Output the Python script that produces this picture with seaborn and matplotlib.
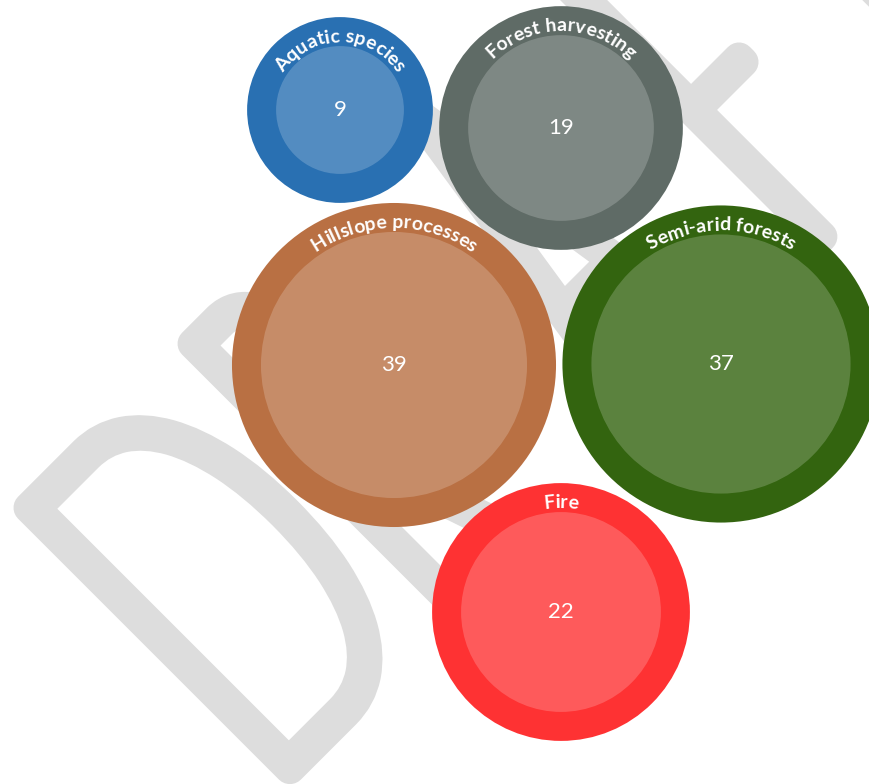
import numpy as np
import matplotlib.pyplot as plt
import seaborn as sns
from matplotlib.patches import Circle, PathPatch
from matplotlib.font_manager import FontProperties
from matplotlib.textpath import TextPath
from matplotlib.path import Path
from matplotlib.transforms import Affine2D

topics = ["Aquatic species", "Forest harvesting", "Hillslope processes", "Semi-arid forests", "Fire"]
counts = [9, 19, 39, 37, 22]
hex_cols = ["#2970b2", "#5f6b66", "#b97043", "#33640f", "#fe3233"]

# packed layout centres, in pixel space
pos_x = [340, 561, 394, 721, 561]
pos_y = [110, 128, 365, 364, 612]

W, H, DPI = 869, 784, 100
K = 21.3     # px per sqrt(count) for the inner disc
RING = 29    # width of the darker outer ring

sns.set_theme(style="white")
plt.rcParams['font.family'] = ['Lato', 'DejaVu Sans']
pal = sns.color_palette(hex_cols)

fig = plt.figure(figsize=(W / DPI, H / DPI), dpi=DPI)
ax = fig.add_axes([0, 0, 1, 1])
ax.set_xlim(0, W)
ax.set_ylim(H, 0)
ax.set_aspect('equal')
ax.axis('off')

# --- DRAFT watermark: thin glyphs, condensed, stroked with round joins, rotated 45 deg
wm_prop = FontProperties(family='Lato', weight='light')
wm_letters = "DRAFT"
wm_left = [0, 232, 495, 750, 912]       # left edge of each letter along the text direction
wm_stretch = [1.6, 1.1, 1.0, 1.0, 1.0]  # per-letter width factor
WM_LW = 31          # stroke width in px
cap_px = 400 - WM_LW
half = WM_LW / 2
c = np.sqrt(0.5)
rot = Affine2D(np.array([[c, -c, 0], [-c, -c, 0], [0, 0, 1]]))
u0, v0 = -354, -764


def glyph(ch):
    p = TextPath((0, 0), ch, size=1, prop=wm_prop)
    pts = p.vertices[p.codes != Path.CLOSEPOLY]
    return p, pts[:, 0].min(), pts[:, 0].max(), pts[:, 1].max()


_, dx0, dx1, dtop = glyph("D")
sy = cap_px / dtop
sx = (143 - WM_LW) / (dx1 - dx0)
for ch, off, st in zip(wm_letters, wm_left, wm_stretch):
    p, xmin, _, _ = glyph(ch)
    tr = (Affine2D().translate(-xmin, 0).scale(sx * st, sy)
          .translate(u0 + off + half, v0 + half) + rot)
    ax.add_patch(PathPatch(tr.transform_path(p), facecolor='#dddddd', edgecolor='#dddddd',
                           lw=WM_LW * 72 / DPI, joinstyle='round', capstyle='round', zorder=0))

renderer = fig.canvas.get_renderer()
lab_prop = FontProperties(family=['Lato', 'DejaVu Sans'], weight='bold', size=14)

def w_px(s):
    return renderer.get_text_width_height_descent(s, lab_prop, ismath=False)[0]

def arc_text(s, cx, cy, rb):
    base = w_px("ll")
    adv = [w_px("l" + ch + "l") - base for ch in s]
    pos = -sum(adv) / 2
    for ch, a in zip(s, adv):
        th = (pos + a / 2) / rb
        ax.text(cx + rb * np.sin(th), cy - rb * np.cos(th), ch, fontproperties=lab_prop,
                color='white', ha='center', va='baseline', rotation=-np.degrees(th),
                rotation_mode='anchor', zorder=5)
        pos += a

for name, v, col, cx, cy in zip(topics, counts, pal, pos_x, pos_y):
    r_in = K * np.sqrt(v)
    r_out = r_in + RING
    ax.add_patch(Circle((cx, cy), r_out, color=col, lw=0, zorder=2))
    ax.add_patch(Circle((cx, cy), r_in, color='white', alpha=0.2, lw=0, zorder=3))
    ax.text(cx, cy, str(v), ha='center', va='center', color='white', fontsize=16,
            fontweight='normal', zorder=5)
    arc_text(name, cx, cy, r_out - 25)

fig.savefig("out.png", dpi=DPI)
